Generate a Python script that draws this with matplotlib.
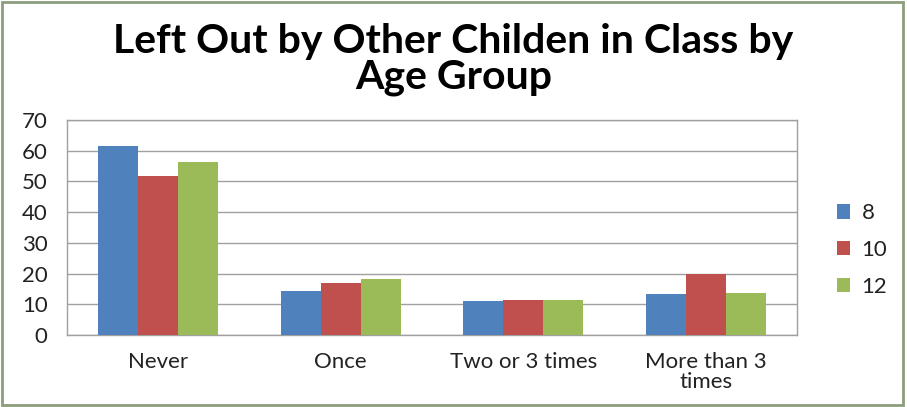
import matplotlib
matplotlib.use("Agg")
import matplotlib.pyplot as plt
import numpy as np

categories = ["Never", "Once", "Two or 3 times", "More than 3\ntimes"]
series_names = ["8", "10", "12"]
age_8 = [61.6, 14.2, 11.2, 13.4]
age_10 = [51.7, 16.8, 11.5, 20.0]
age_12 = [56.4, 18.2, 11.5, 13.6]
colors = ["#4F81BD", "#C0504D", "#9BBB59"]
yticks = [0, 10, 20, 30, 40, 50, 60, 70]

plt.rcParams['font.family'] = ['Lato', 'DejaVu Sans']

fig = plt.figure(figsize=(9.07, 4.07), dpi=100)
ax = fig.add_axes([67 / 907, 1 - 335 / 407, (797 - 67) / 907, (335 - 120) / 407])

x = np.arange(len(categories))
w = 0.22
for i, (vals, name) in enumerate(zip([age_8, age_10, age_12], series_names)):
    ax.bar(x + (i - 1) * w, vals, width=w, color=colors[i], label=name, zorder=3)

ax.set_xlim(-0.5, len(categories) - 0.5)
ax.set_ylim(0, 70)
ax.set_yticks(yticks)
ax.set_xticks(x)
ax.set_xticklabels(categories, fontsize=16, color="#222222", linespacing=1.0)
ax.tick_params(axis='y', labelsize=16, colors="#222222", length=0, pad=14)
ax.tick_params(axis='x', length=0, pad=12)
ax.grid(axis='y', color="#A0A0A0", linewidth=1, zorder=0)
for side in ax.spines.values():
    side.set_color("#A0A0A0")
    side.set_linewidth(1)

leg = fig.legend(loc="center left", bbox_to_anchor=(817 / 907, 1 - 250 / 407),
                 frameon=False, fontsize=16, handlelength=0.6, handleheight=0.6,
                 labelspacing=0.75, handletextpad=0.5)
for t in leg.get_texts():
    t.set_color("#222222")

fig.text(0.5, 1 - 41 / 407, "Left Out by Other Childen in Class by", ha="center", va="center",
         fontsize=29.5, fontweight="bold")
fig.text(0.5, 1 - 78 / 407, "Age Group", ha="center", va="center",
         fontsize=29.5, fontweight="bold")

fig.patches.append(plt.Rectangle((0.002, 0.004), 0.994, 0.992, transform=fig.transFigure,
                                 fill=False, edgecolor="#8C9C7C", linewidth=2))

fig.savefig("out.png", dpi=100, facecolor="white")
